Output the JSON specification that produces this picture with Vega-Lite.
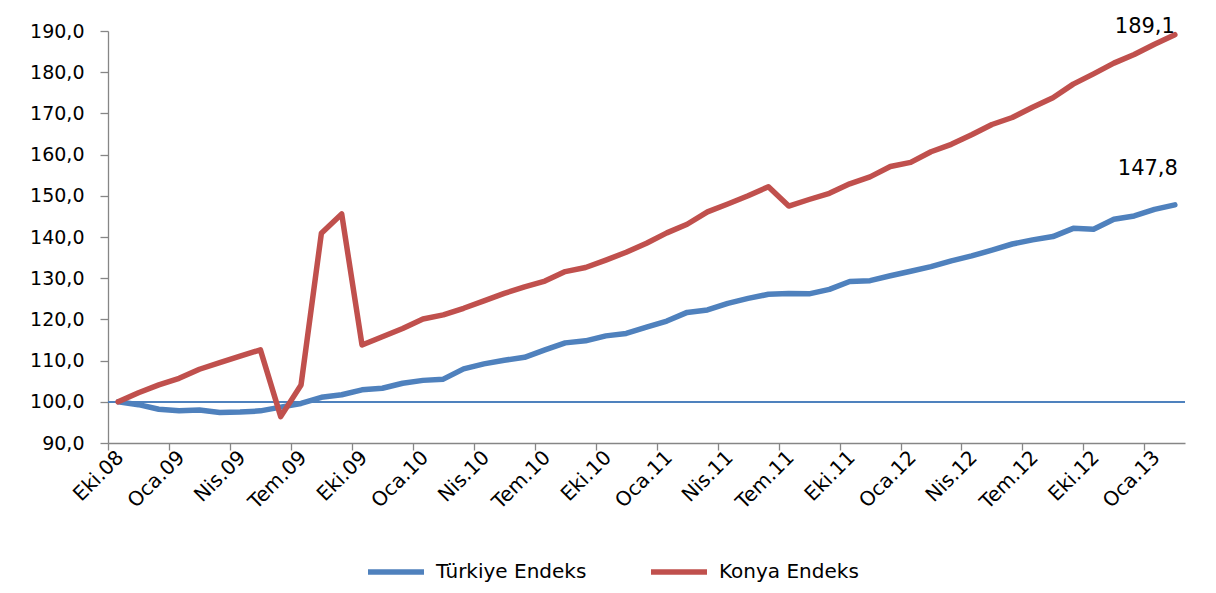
{
  "$schema": "https://vega.github.io/schema/vega-lite/v6.json",
  "width": 1077,
  "height": 412,
  "autosize": {"type": "none"},
  "padding": {"left": 108, "top": 31, "right": 31, "bottom": 150},
  "background": "white",
  "config": {
    "locale": {"number": {"decimal": ",", "thousands": ".", "grouping": [3], "currency": ["", " TL"]}},
    "view": {"stroke": null},
    "font": "DejaVu Sans",
    "axis": {"labelFont": "DejaVu Sans", "labelFontSize": 19, "labelColor": "#000000", "domainColor": "#868686", "tickColor": "#868686", "domainWidth": 1.3, "tickWidth": 1.3, "grid": false, "title": null},
    "legend": {"labelFont": "DejaVu Sans", "labelFontSize": 19, "labelColor": "#000000"}
  },
  "datasets": {
    "veri": [
      {"i":0,"ay":"Eki.08","seri":"Türkiye Endeks","deger":100.0},
      {"i":1,"ay":"Kas.08","seri":"Türkiye Endeks","deger":99.3},
      {"i":2,"ay":"Ara.08","seri":"Türkiye Endeks","deger":98.2},
      {"i":3,"ay":"Oca.09","seri":"Türkiye Endeks","deger":97.8},
      {"i":4,"ay":"Şub.09","seri":"Türkiye Endeks","deger":98.0},
      {"i":5,"ay":"Mar.09","seri":"Türkiye Endeks","deger":97.4},
      {"i":6,"ay":"Nis.09","seri":"Türkiye Endeks","deger":97.5},
      {"i":7,"ay":"May.09","seri":"Türkiye Endeks","deger":97.8},
      {"i":8,"ay":"Haz.09","seri":"Türkiye Endeks","deger":98.7},
      {"i":9,"ay":"Tem.09","seri":"Türkiye Endeks","deger":99.6},
      {"i":10,"ay":"Ağu.09","seri":"Türkiye Endeks","deger":101.1},
      {"i":11,"ay":"Eyl.09","seri":"Türkiye Endeks","deger":101.7},
      {"i":12,"ay":"Eki.09","seri":"Türkiye Endeks","deger":102.9},
      {"i":13,"ay":"Kas.09","seri":"Türkiye Endeks","deger":103.3},
      {"i":14,"ay":"Ara.09","seri":"Türkiye Endeks","deger":104.5},
      {"i":15,"ay":"Oca.10","seri":"Türkiye Endeks","deger":105.2},
      {"i":16,"ay":"Şub.10","seri":"Türkiye Endeks","deger":105.5},
      {"i":17,"ay":"Mar.10","seri":"Türkiye Endeks","deger":108.0},
      {"i":18,"ay":"Nis.10","seri":"Türkiye Endeks","deger":109.2},
      {"i":19,"ay":"May.10","seri":"Türkiye Endeks","deger":110.1},
      {"i":20,"ay":"Haz.10","seri":"Türkiye Endeks","deger":110.8},
      {"i":21,"ay":"Tem.10","seri":"Türkiye Endeks","deger":112.6},
      {"i":22,"ay":"Ağu.10","seri":"Türkiye Endeks","deger":114.3},
      {"i":23,"ay":"Eyl.10","seri":"Türkiye Endeks","deger":114.8},
      {"i":24,"ay":"Eki.10","seri":"Türkiye Endeks","deger":116.0},
      {"i":25,"ay":"Kas.10","seri":"Türkiye Endeks","deger":116.6},
      {"i":26,"ay":"Ara.10","seri":"Türkiye Endeks","deger":118.1},
      {"i":27,"ay":"Oca.11","seri":"Türkiye Endeks","deger":119.6},
      {"i":28,"ay":"Şub.11","seri":"Türkiye Endeks","deger":121.7},
      {"i":29,"ay":"Mar.11","seri":"Türkiye Endeks","deger":122.3},
      {"i":30,"ay":"Nis.11","seri":"Türkiye Endeks","deger":123.9},
      {"i":31,"ay":"May.11","seri":"Türkiye Endeks","deger":125.1},
      {"i":32,"ay":"Haz.11","seri":"Türkiye Endeks","deger":126.1},
      {"i":33,"ay":"Tem.11","seri":"Türkiye Endeks","deger":126.3},
      {"i":34,"ay":"Ağu.11","seri":"Türkiye Endeks","deger":126.2},
      {"i":35,"ay":"Eyl.11","seri":"Türkiye Endeks","deger":127.3},
      {"i":36,"ay":"Eki.11","seri":"Türkiye Endeks","deger":129.2},
      {"i":37,"ay":"Kas.11","seri":"Türkiye Endeks","deger":129.4},
      {"i":38,"ay":"Ara.11","seri":"Türkiye Endeks","deger":130.6},
      {"i":39,"ay":"Oca.12","seri":"Türkiye Endeks","deger":131.7},
      {"i":40,"ay":"Şub.12","seri":"Türkiye Endeks","deger":132.8},
      {"i":41,"ay":"Mar.12","seri":"Türkiye Endeks","deger":134.2},
      {"i":42,"ay":"Nis.12","seri":"Türkiye Endeks","deger":135.4},
      {"i":43,"ay":"May.12","seri":"Türkiye Endeks","deger":136.8},
      {"i":44,"ay":"Haz.12","seri":"Türkiye Endeks","deger":138.3},
      {"i":45,"ay":"Tem.12","seri":"Türkiye Endeks","deger":139.3},
      {"i":46,"ay":"Ağu.12","seri":"Türkiye Endeks","deger":140.1},
      {"i":47,"ay":"Eyl.12","seri":"Türkiye Endeks","deger":142.1},
      {"i":48,"ay":"Eki.12","seri":"Türkiye Endeks","deger":141.9},
      {"i":49,"ay":"Kas.12","seri":"Türkiye Endeks","deger":144.3},
      {"i":50,"ay":"Ara.12","seri":"Türkiye Endeks","deger":145.1},
      {"i":51,"ay":"Oca.13","seri":"Türkiye Endeks","deger":146.7},
      {"i":52,"ay":"Şub.13","seri":"Türkiye Endeks","deger":147.8},
      {"i":0,"ay":"Eki.08","seri":"Konya Endeks","deger":100.0},
      {"i":1,"ay":"Kas.08","seri":"Konya Endeks","deger":102.2},
      {"i":2,"ay":"Ara.08","seri":"Konya Endeks","deger":104.1},
      {"i":3,"ay":"Oca.09","seri":"Konya Endeks","deger":105.7},
      {"i":4,"ay":"Şub.09","seri":"Konya Endeks","deger":107.9},
      {"i":5,"ay":"Mar.09","seri":"Konya Endeks","deger":109.5},
      {"i":6,"ay":"Nis.09","seri":"Konya Endeks","deger":111.1},
      {"i":7,"ay":"May.09","seri":"Konya Endeks","deger":112.6},
      {"i":8,"ay":"Haz.09","seri":"Konya Endeks","deger":96.4},
      {"i":9,"ay":"Tem.09","seri":"Konya Endeks","deger":104.1},
      {"i":10,"ay":"Ağu.09","seri":"Konya Endeks","deger":140.9},
      {"i":11,"ay":"Eyl.09","seri":"Konya Endeks","deger":145.6},
      {"i":12,"ay":"Eki.09","seri":"Konya Endeks","deger":113.8},
      {"i":13,"ay":"Kas.09","seri":"Konya Endeks","deger":115.8},
      {"i":14,"ay":"Ara.09","seri":"Konya Endeks","deger":117.8},
      {"i":15,"ay":"Oca.10","seri":"Konya Endeks","deger":120.1},
      {"i":16,"ay":"Şub.10","seri":"Konya Endeks","deger":121.1},
      {"i":17,"ay":"Mar.10","seri":"Konya Endeks","deger":122.7},
      {"i":18,"ay":"Nis.10","seri":"Konya Endeks","deger":124.5},
      {"i":19,"ay":"May.10","seri":"Konya Endeks","deger":126.3},
      {"i":20,"ay":"Haz.10","seri":"Konya Endeks","deger":127.9},
      {"i":21,"ay":"Tem.10","seri":"Konya Endeks","deger":129.3},
      {"i":22,"ay":"Ağu.10","seri":"Konya Endeks","deger":131.6},
      {"i":23,"ay":"Eyl.10","seri":"Konya Endeks","deger":132.6},
      {"i":24,"ay":"Eki.10","seri":"Konya Endeks","deger":134.4},
      {"i":25,"ay":"Kas.10","seri":"Konya Endeks","deger":136.3},
      {"i":26,"ay":"Ara.10","seri":"Konya Endeks","deger":138.5},
      {"i":27,"ay":"Oca.11","seri":"Konya Endeks","deger":141.0},
      {"i":28,"ay":"Şub.11","seri":"Konya Endeks","deger":143.1},
      {"i":29,"ay":"Mar.11","seri":"Konya Endeks","deger":146.1},
      {"i":30,"ay":"Nis.11","seri":"Konya Endeks","deger":148.0},
      {"i":31,"ay":"May.11","seri":"Konya Endeks","deger":150.0},
      {"i":32,"ay":"Haz.11","seri":"Konya Endeks","deger":152.2},
      {"i":33,"ay":"Tem.11","seri":"Konya Endeks","deger":147.5},
      {"i":34,"ay":"Ağu.11","seri":"Konya Endeks","deger":149.1},
      {"i":35,"ay":"Eyl.11","seri":"Konya Endeks","deger":150.6},
      {"i":36,"ay":"Eki.11","seri":"Konya Endeks","deger":152.9},
      {"i":37,"ay":"Kas.11","seri":"Konya Endeks","deger":154.6},
      {"i":38,"ay":"Ara.11","seri":"Konya Endeks","deger":157.1},
      {"i":39,"ay":"Oca.12","seri":"Konya Endeks","deger":158.1},
      {"i":40,"ay":"Şub.12","seri":"Konya Endeks","deger":160.7},
      {"i":41,"ay":"Mar.12","seri":"Konya Endeks","deger":162.5},
      {"i":42,"ay":"Nis.12","seri":"Konya Endeks","deger":164.8},
      {"i":43,"ay":"May.12","seri":"Konya Endeks","deger":167.3},
      {"i":44,"ay":"Haz.12","seri":"Konya Endeks","deger":169.0},
      {"i":45,"ay":"Tem.12","seri":"Konya Endeks","deger":171.5},
      {"i":46,"ay":"Ağu.12","seri":"Konya Endeks","deger":173.8},
      {"i":47,"ay":"Eyl.12","seri":"Konya Endeks","deger":177.1},
      {"i":48,"ay":"Eki.12","seri":"Konya Endeks","deger":179.6},
      {"i":49,"ay":"Kas.12","seri":"Konya Endeks","deger":182.2},
      {"i":50,"ay":"Ara.12","seri":"Konya Endeks","deger":184.3},
      {"i":51,"ay":"Oca.13","seri":"Konya Endeks","deger":186.8},
      {"i":52,"ay":"Şub.13","seri":"Konya Endeks","deger":189.1}
    ]
  },
  "data": {"name": "veri"},
  "layer": [
    {
      "mark": {"type": "rule", "color": "#4F81BD", "strokeWidth": 1.5},
      "encoding": {"y": {"datum": 100, "type": "quantitative"}}
    },
    {
      "mark": {"type": "line", "strokeWidth": 5.5, "strokeCap": "round", "strokeJoin": "round"},
      "encoding": {
        "x": {
          "field": "ay", "type": "ordinal", "sort": {"field": "i", "op": "min"},
          "scale": {"type": "point", "padding": 0.5},
          "axis": {
            "values": ["Eki.08","Oca.09","Nis.09","Tem.09","Eki.09","Oca.10","Nis.10","Tem.10","Eki.10","Oca.11","Nis.11","Tem.11","Eki.11","Oca.12","Nis.12","Tem.12","Eki.12","Oca.13"],
            "tickOffset": -10.16, "labelOffset": 12, "tickSize": 7,
            "labelFontSize": 20,
            "labelAngle": -45, "labelAlign": "right", "labelBaseline": "middle", "labelPadding": 4
          }
        },
        "y": {
          "field": "deger", "type": "quantitative",
          "scale": {"domain": [90, 190], "nice": false, "zero": false},
          "axis": {"values": [90,100,110,120,130,140,150,160,170,180,190], "format": ".1f", "tickSize": 8, "labelPadding": 16}
        },
        "color": {
          "field": "seri", "type": "nominal",
          "scale": {"domain": ["Türkiye Endeks", "Konya Endeks"], "range": ["#4F81BD", "#C0504D"]},
          "legend": {"title": null, "orient": "none", "direction": "horizontal", "legendX": 257, "legendY": 510, "symbolType": "stroke", "symbolSize": 3136, "symbolStrokeWidth": 5.5, "labelOffset": 9, "columnPadding": 53, "labelFontSize": 20}
        },
        "order": {"field": "i", "type": "quantitative"}
      }
    },
    {
      "transform": [{"filter": "datum.i == 52 && datum.seri == 'Konya Endeks'"}],
      "mark": {"type": "text", "fontSize": 21, "font": "DejaVu Sans", "color": "#000000", "align": "center", "baseline": "alphabetic", "dx": -30, "dy": -2},
      "encoding": {
        "x": {"field": "ay", "type": "ordinal", "sort": {"field": "i", "op": "min"}},
        "y": {"field": "deger", "type": "quantitative"},
        "text": {"field": "deger", "type": "quantitative", "format": ".1f"}
      }
    },
    {
      "transform": [{"filter": "datum.i == 52 && datum.seri == 'Türkiye Endeks'"}],
      "mark": {"type": "text", "fontSize": 21, "font": "DejaVu Sans", "color": "#000000", "align": "center", "baseline": "alphabetic", "dx": -27, "dy": -30},
      "encoding": {
        "x": {"field": "ay", "type": "ordinal", "sort": {"field": "i", "op": "min"}},
        "y": {"field": "deger", "type": "quantitative"},
        "text": {"field": "deger", "type": "quantitative", "format": ".1f"}
      }
    }
  ]
}
